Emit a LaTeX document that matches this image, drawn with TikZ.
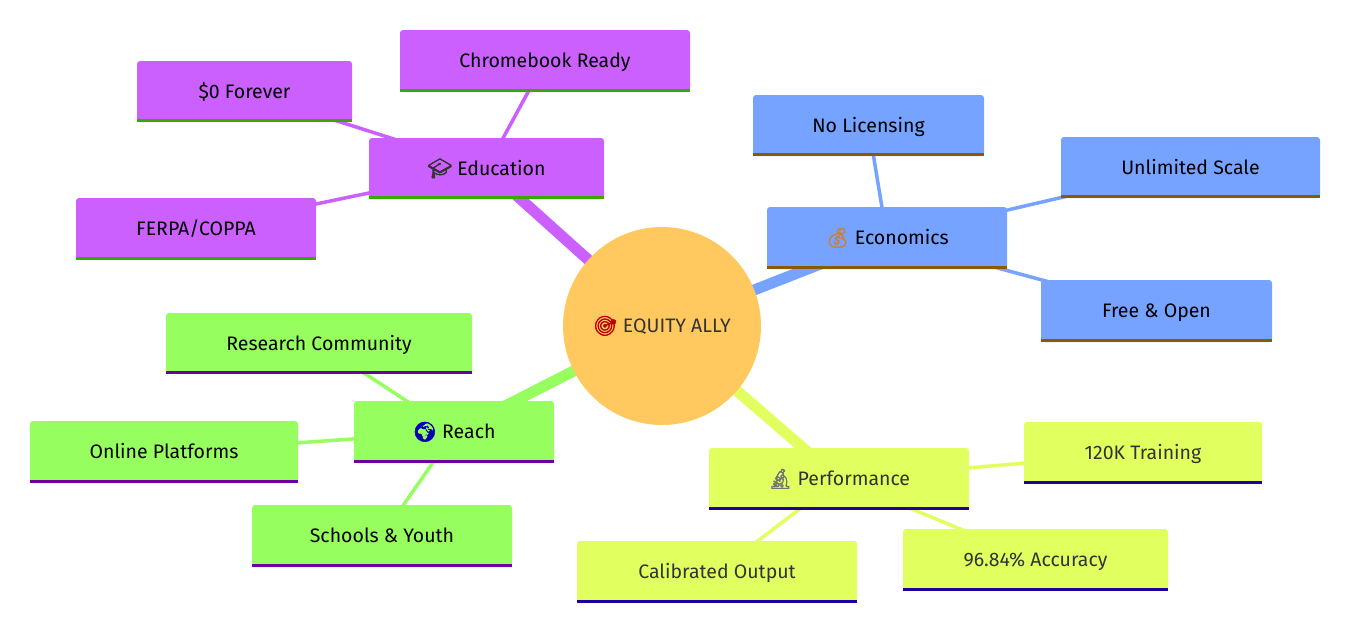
\documentclass[tikz,border=0pt]{standalone}
\usepackage{fontspec}
\setmainfont{Fira Sans}
\newfontfamily\emojifont[FakeBold=2.5]{Noto Emoji}
\usetikzlibrary{backgrounds}
\definecolor{cPurple}{HTML}{CB60FF}
\definecolor{lPurple}{HTML}{39A800}
\definecolor{cBlue}{HTML}{76A3FF}
\definecolor{lBlue}{HTML}{8A5A00}
\definecolor{cGreen}{HTML}{96FF5F}
\definecolor{lGreen}{HTML}{6E00A0}
\definecolor{cYellow}{HTML}{E1FF5F}
\definecolor{lYellow}{HTML}{1E00A0}
\definecolor{cRoot}{HTML}{FFC95F}
\definecolor{tDark}{HTML}{333333}
\tikzset{
  x=1pt,y=-1pt,
  mmbox/.style={rectangle,rounded corners=3pt,inner sep=0pt,text height=16pt,text depth=3pt,font=\fontsize{19.5}{24}\selectfont,text=black},
  mainedge/.style={line width=11pt},
  subedge/.style={line width=3.5pt},
}
% name, x0, y0, x1, y1, fill, underline, text colour, text
\newcommand{\mmnode}[9]{%
  \node[mmbox,fill=#6,text=#8,minimum width={(#4-#2)*1pt},minimum height={(#5-#3)*1pt}] (#1) at ({(#2+#4)/2},{(#3+#5)/2}) {#9};
  \fill[#7] (#2,#5-3) rectangle (#4,#5);
}
\newcommand{\emo}[2]{{\emojifont\textcolor{#1}{#2}}\hspace{5pt}}
\begin{document}
\begin{tikzpicture}
\useasboundingbox (0,0) rectangle (1358,635);
\node[circle,fill=cRoot,minimum size=198pt,inner sep=0pt,text=tDark,text height=16pt,text depth=3pt,font=\fontsize{19.5}{24}\selectfont] (root) at (662,326) {\emo{red!75!black}{🎯}EQUITY ALLY};
\mmnode{edu}{369}{138}{604}{199}{cPurple}{lPurple}{black}{\emo{black!80}{🎓}Education}
\mmnode{chrome}{400}{30}{690}{92}{cPurple}{lPurple}{black}{Chromebook Ready}
\mmnode{zero}{137}{61}{352}{122}{cPurple}{lPurple}{black}{\$0 Forever}
\mmnode{ferpa}{76}{198}{316}{260}{cPurple}{lPurple}{black}{FERPA/COPPA}
\mmnode{eco}{767}{207}{1007}{269}{cBlue}{lBlue}{black}{\emo{brown!80!orange}{💰}Economics}
\mmnode{nolic}{753}{95}{984}{156}{cBlue}{lBlue}{black}{No Licensing}
\mmnode{unlim}{1061}{137}{1320}{198}{cBlue}{lBlue}{black}{Unlimited Scale}
\mmnode{free}{1041}{280}{1272}{342}{cBlue}{lBlue}{black}{Free \& Open}
\mmnode{reach}{354}{401}{554}{463}{cGreen}{lGreen}{black}{\emo{blue!70!black}{🌍}Reach}
\mmnode{research}{166}{313}{472}{374}{cGreen}{lGreen}{black}{Research Community}
\mmnode{online}{30}{421}{298}{483}{cGreen}{lGreen}{black}{Online Platforms}
\mmnode{schools}{252}{505}{512}{567}{cGreen}{lGreen}{black}{Schools \& Youth}
\mmnode{perf}{709}{448}{969}{510}{cYellow}{lYellow}{tDark}{\emo{black!55}{🔬}Performance}
\mmnode{train}{1024}{422}{1262}{484}{cYellow}{lYellow}{tDark}{120K Training}
\mmnode{acc}{903}{529}{1168}{591}{cYellow}{lYellow}{tDark}{96.84\% Accuracy}
\mmnode{calib}{577}{541}{857}{603}{cYellow}{lYellow}{tDark}{Calibrated Output}
\begin{scope}[on background layer]
\draw[mainedge,cPurple] (root.center) -- (edu.center);
\draw[mainedge,cBlue] (root.center) -- (eco.center);
\draw[mainedge,cGreen] (root.center) -- (reach.center);
\draw[mainedge,cYellow] (root.center) -- (perf.center);
\draw[subedge,cPurple] (edu.center) -- (chrome.center);
\draw[subedge,cPurple] (edu.center) -- (zero.center);
\draw[subedge,cPurple] (edu.center) -- (ferpa.center);
\draw[subedge,cBlue] (eco.center) -- (nolic.center);
\draw[subedge,cBlue] (eco.center) -- (unlim.center);
\draw[subedge,cBlue] (eco.center) -- (free.center);
\draw[subedge,cGreen] (reach.center) -- (research.center);
\draw[subedge,cGreen] (reach.center) -- (online.center);
\draw[subedge,cGreen] (reach.center) -- (schools.center);
\draw[subedge,cYellow] (perf.center) -- (train.center);
\draw[subedge,cYellow] (perf.center) -- (acc.center);
\draw[subedge,cYellow] (perf.center) -- (calib.center);
\end{scope}
\end{tikzpicture}
\end{document}
